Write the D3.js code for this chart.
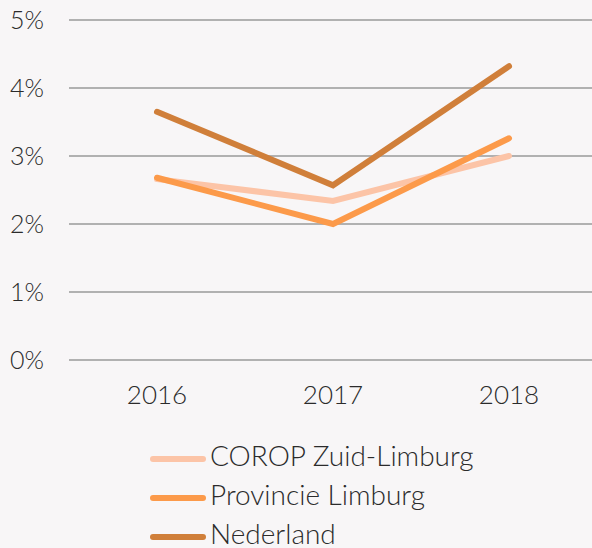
<!doctype html>
<html lang="en">
<head>
<meta charset="UTF-8" />
<script src="https://cdn.jsdelivr.net/npm/d3@7"></script>
<style>
  html, body { margin: 0; padding: 0; background: #f8f6f7; }
  svg text { font-family: Lato, "Open Sans", sans-serif; font-weight: 300; fill: #2b2b2b; }
</style>
</head>
<body>
<div id="chart"></div>
<script>
  const years = ["2016", "2017", "2018"];
  const seriesNames = ["COROP Zuid-Limburg", "Provincie Limburg", "Nederland"];
  const corop = [2.66, 2.34, 3.0];
  const provincie = [2.68, 2.0, 3.26];
  const nederland = [3.65, 2.57, 4.32];
  const yTicks = [0, 1, 2, 3, 4, 5];
  const colors = ["#fcc4a7", "#fc9a4a", "#d07f3a"];

  const width = 592, height = 548;
  const marginLeft = 69, marginTop = 20;
  const plotBottom = 360;

  const svg = d3.select("#chart").append("svg")
    .attr("width", width).attr("height", height);

  const x = d3.scalePoint().domain(years).range([157, 509]);
  const y = d3.scaleLinear().domain([0, 5]).range([plotBottom, marginTop]);

  // gridlines
  svg.append("g").selectAll("line").data(yTicks).enter().append("line")
    .attr("x1", marginLeft).attr("x2", width)
    .attr("y1", d => y(d)).attr("y2", d => y(d))
    .attr("stroke", "#9a9a9a").attr("stroke-width", 1.3);

  // y labels
  svg.append("g").selectAll("text").data(yTicks).enter().append("text")
    .attr("x", 44).attr("y", d => y(d) + 8.5)
    .attr("text-anchor", "end")
    .style("font-size", "25px")
    .text(d => d + "%");

  // x labels
  svg.append("g").selectAll("text").data(years).enter().append("text")
    .attr("x", d => x(d)).attr("y", 404)
    .attr("text-anchor", "middle")
    .style("font-size", "26px")
    .text(d => d);

  const data = [corop, provincie, nederland];
  const line = d3.line().x((d, i) => x(years[i])).y(d => y(d));

  svg.append("g").selectAll("path").data(data).enter().append("path")
    .attr("d", d => line(d))
    .attr("fill", "none")
    .attr("stroke", (d, i) => colors[i])
    .attr("stroke-width", 6)
    .attr("stroke-linecap", "round")
    .attr("stroke-linejoin", "miter");

  // legend
  const legend = svg.append("g").selectAll("g").data(seriesNames).enter().append("g")
    .attr("transform", (d, i) => `translate(0,${459 + i * 39})`);
  legend.append("line")
    .attr("x1", 153).attr("x2", 203).attr("y1", 0).attr("y2", 0)
    .attr("stroke", (d, i) => colors[i])
    .attr("stroke-width", 6)
    .attr("stroke-linecap", "round");
  legend.append("text")
    .attr("x", 210).attr("y", 7)
    .style("font-size", "28px")
    .text(d => d);
</script>
</body>
</html>
